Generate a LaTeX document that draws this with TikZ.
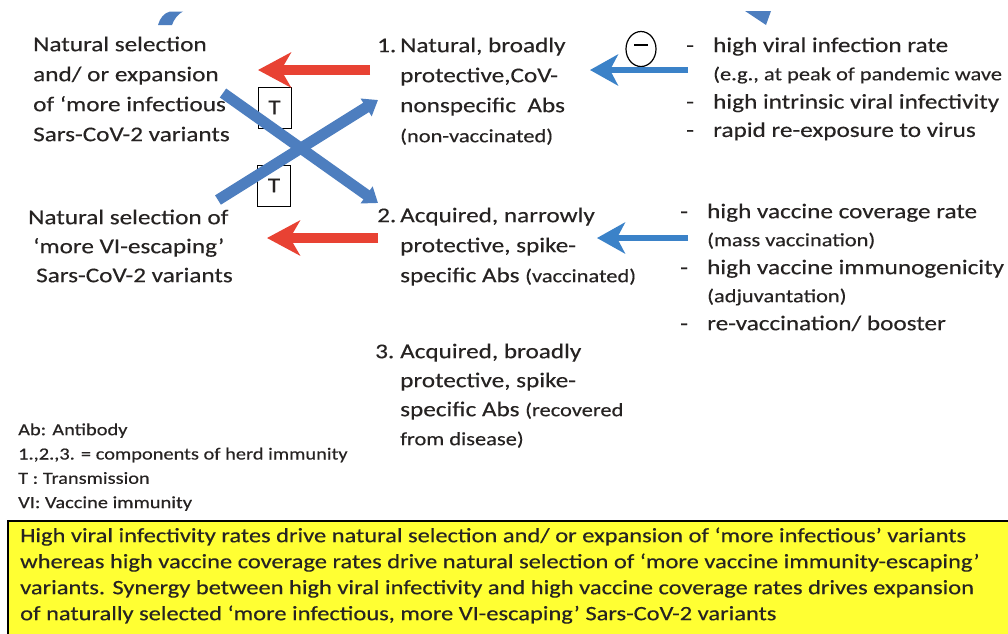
\documentclass[tikz,border=0pt]{standalone}
\usepackage{fontspec}
\setmainfont{Carlito}[FakeStretch=1.2,FakeBold=0.3]
\usetikzlibrary{arrows.meta,shapes.geometric}
\definecolor{txt}{HTML}{262322}
\definecolor{redarrow}{HTML}{E84233}
\definecolor{crossblue}{HTML}{4D7EBF}
\definecolor{thinblue}{HTML}{3B82C8}
\definecolor{boxyellow}{HTML}{FFFF33}
\newcommand{\mainsz}{\fontsize{21}{30}\selectfont}
\newcommand{\smallsz}{\fontsize{18.7}{30}\selectfont}
\newcommand{\legsz}{\fontsize{17}{24.3}\selectfont}
\newcommand{\boxsz}{\fontsize{20.4}{26}\selectfont}
\tikzset{
  textblock/.style={anchor=north west, inner sep=0pt, text=txt, align=left},
  redarr/.style={draw=redarrow, line width=9.5pt,
    -{Stealth[length=33pt,width=35pt,inset=10pt]}},
  crossarr/.style={draw=crossblue, line width=11pt,
    -{Triangle[length=14pt,width=20pt]}},
  thinarr/.style={draw=thinblue, line width=5.5pt,
    -{Stealth[length=28pt,width=31pt,inset=8pt]}},
  tbox/.style={draw=black, line width=1pt, fill=white, minimum width=33pt,
    minimum height=41pt, inner sep=0pt, text=txt, font=\mainsz}
}
\begin{document}
\begin{tikzpicture}[x=1pt,y=-1pt]
\useasboundingbox (0,0) rectangle (1008,633);
\fill[white] (0,0) rectangle (1008,633);

% cut-off shapes at the top edge
\fill[crossblue] (158,25) .. controls (160,18) and (164,13) .. (170,11.5)
  -- (183,11.5) .. controls (178,14) and (174,19) .. (172,25) -- cycle;
\fill[crossblue] (745,11) -- (771,11) -- (766,25) -- cycle;

% left column: selected variants
\node[textblock] (infect) at (33,30) {\mainsz\begin{tabular}{@{}l@{}}
Natural selection\\ and/ or expansion\\ of ‘more infectious\\ Sars-CoV-2 variants
\end{tabular}};
\node[textblock] (escape) at (28,203.7) {\fontsize{21}{29}\selectfont\begin{tabular}{@{}l@{}}
Natural selection of\\ \hspace{5pt}‘more VI-escaping’\\ \hspace{8pt}Sars-CoV-2 variants
\end{tabular}};

% middle column: components of herd immunity
\node[textblock] (natural) at (377,31) {\mainsz\begin{tabular}{@{}p{23pt}@{}l@{}}
1. & Natural, broadly\\ & protective,CoV-\\ & nonspecific\ \ Abs\\ & {\smallsz(non-vaccinated)}
\end{tabular}};
\node[textblock] (narrow) at (377,201) {\mainsz\begin{tabular}{@{}p{23pt}@{}l@{}}
2. & Acquired, narrowly\\ & protective, spike-\\ & specific Abs {\smallsz(vaccinated)}
\end{tabular}};
\node[textblock] (broad) at (375,337.7) {\fontsize{21}{29}\selectfont\begin{tabular}{@{}p{25pt}@{}l@{}}
3. & Acquired, broadly\\ & protective, spike-\\ & specific Abs {\smallsz(recovered}\\ & {\smallsz from disease)}
\end{tabular}};

% right column: drivers
\node[textblock] (drivers1) at (686,32) {\fontsize{21}{28.3}\selectfont\begin{tabular}{@{}p{27pt}@{}l@{}}
- & high viral infection rate\\ & {\smallsz(e.g., at peak of pandemic wave}\\
- & high intrinsic viral infectivity\\ - & rapid re-exposure to virus
\end{tabular}};
\node[textblock] (drivers2) at (680,198.4) {\fontsize{21}{28}\selectfont\begin{tabular}{@{}p{27pt}@{}l@{}}
- & high vaccine coverage rate\\ & {\smallsz(mass vaccination)}\\
- & high vaccine immunogenicity\\ & {\smallsz(adjuvantation)}\\ - & re-vaccination/ booster
\end{tabular}};

% legend
\node[textblock] (legend) at (18,418) {\legsz\begin{tabular}{@{}l@{}}
Ab: Antibody\\ 1.,2.,3. = components of herd immunity\\ T : Transmission\\ VI: Vaccine immunity
\end{tabular}};

% transmission boxes
\node[tbox] (t1) at (274.5,107.5) {T};
\node[tbox] (t2) at (274,185.5) {T};

% inhibition sign
\node[draw=black, line width=1.2pt, ellipse, minimum width=30pt, minimum height=35pt, inner sep=0pt] (inhib) at (641,49) {};
\draw[line width=1.2pt] ([xshift=-7pt,yshift=4pt]inhib.center) -- ([xshift=7pt,yshift=4pt]inhib.center);

% arrow end points
\coordinate (r1s) at (370,70);  \coordinate (r1e) at (258,70);
\coordinate (r2s) at (378,238); \coordinate (r2e) at (267,238);
\coordinate (c1s) at (223,93);  \coordinate (c1e) at (378,203);
\coordinate (c2s) at (218,200); \coordinate (c2e) at (378,100);
\coordinate (b1s) at (688,70);  \coordinate (b1e) at (590,70);
\coordinate (b2s) at (688,238); \coordinate (b2e) at (597,238);

\draw[redarr] (r1s) -- (r1e);
\draw[redarr] (r2s) -- (r2e);
\draw[crossarr] (c1s) -- (c1e);
\draw[crossarr] (c2s) -- (c2e);
\draw[thinarr] (b1s) -- (b1e);
\draw[thinarr] (b2s) -- (b2e);

% summary box
\draw[fill=boxyellow, line width=1.3pt] (8,521) rectangle (1020,645);
\node[textblock] (summary) at (20,523.8) {\boxsz\begin{tabular}{@{}l@{}}
High viral infectivity rates drive natural selection and/ or expansion of ‘more infectious’ variants\\
whereas high vaccine coverage rates drive natural selection of ‘more vaccine immunity-escaping’\\
variants. Synergy between high viral infectivity and high vaccine coverage rates drives expansion\\
of naturally selected ‘more infectious, more VI-escaping’ Sars-CoV-2 variants
\end{tabular}};
\end{tikzpicture}
\end{document}
